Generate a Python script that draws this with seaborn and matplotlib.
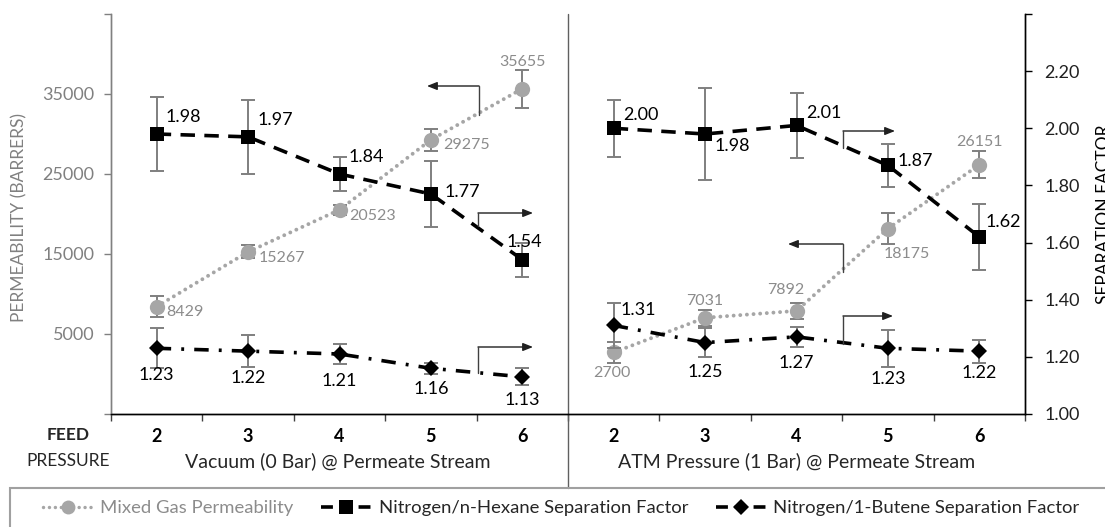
import numpy as np
import pandas as pd
import matplotlib
matplotlib.use("Agg")
import matplotlib.pyplot as plt
from matplotlib.lines import Line2D
from matplotlib.patches import Rectangle
import matplotlib.transforms as mtransforms
import seaborn as sns

sns.set_theme(style="white")
plt.rcParams['font.family'] = ['Lato', 'DejaVu Sans']

# Data
pressures = ["2", "3", "4", "5", "6"]
panels = ["Vacuum (0 Bar) @ Permeate Stream", "ATM Pressure (1 Bar) @ Permeate Stream"]

perm_vac = [8429, 15267, 20523, 29275, 35655]
perm_vac_err = [1300, 800, 600, 1400, 2400]
perm_atm = [2700, 7031, 7892, 18175, 26151]
perm_atm_err = [1300, 1000, 1000, 1900, 1700]

hex_vac = [1.98, 1.97, 1.84, 1.77, 1.54]
hex_vac_err = [0.13, 0.13, 0.06, 0.115, 0.06]
hex_atm = [2.00, 1.98, 2.01, 1.87, 1.62]
hex_atm_err = [0.10, 0.16, 0.115, 0.075, 0.115]

but_vac = [1.23, 1.22, 1.21, 1.16, 1.13]
but_vac_err = [0.07, 0.055, 0.035, 0.02, 0.03]
but_atm = [1.31, 1.25, 1.27, 1.23, 1.22]
but_atm_err = [0.08, 0.05, 0.035, 0.065, 0.04]

GRAY = "#A6A6A6"
GRAY_TXT = "#8C8C8C"
ERR = "#7F7F7F"


def build_frame(vac, vac_err, atm, atm_err):
    n = len(pressures)
    return pd.DataFrame({
        "pos": list(range(n)) + list(range(n, 2 * n)),
        "value": list(vac) + list(atm),
        "err": list(vac_err) + list(atm_err),
        "panel": [panels[0]] * n + [panels[1]] * n,
    })


perm_df = build_frame(perm_vac, perm_vac_err, perm_atm, perm_atm_err)
hex_df = build_frame(hex_vac, hex_vac_err, hex_atm, hex_atm_err)
but_df = build_frame(but_vac, but_vac_err, but_atm, but_atm_err)

fig = plt.figure(figsize=(11.05, 5.27), dpi=100)
ax = fig.add_axes([111 / 1105, 1 - 414 / 527, 914 / 1105, 400 / 527])
ax2 = ax.twinx()

# error bars first, then lines + markers
ax.errorbar(perm_df["pos"], perm_df["value"], yerr=perm_df["err"], fmt="none",
            ecolor=ERR, elinewidth=1.4, capsize=5, capthick=1.4, zorder=1)
ax2.errorbar(hex_df["pos"], hex_df["value"], yerr=hex_df["err"], fmt="none",
             ecolor=ERR, elinewidth=1.4, capsize=5, capthick=1.4, zorder=1)
ax2.errorbar(but_df["pos"], but_df["value"], yerr=but_df["err"], fmt="none",
             ecolor=ERR, elinewidth=1.4, capsize=5, capthick=1.4, zorder=1)

sns.lineplot(data=perm_df, x="pos", y="value", units="panel", estimator=None, ax=ax,
             color=GRAY, lw=2.8, linestyle=(0, (0.01, 1.7)), dash_capstyle="round",
             marker="o", markersize=11, markeredgewidth=0, legend=False, zorder=2)
sns.lineplot(data=hex_df, x="pos", y="value", units="panel", estimator=None, ax=ax2,
             color="black", lw=2.6, linestyle=(0, (4, 2.6)),
             marker="s", markersize=10, markeredgewidth=0, legend=False, zorder=3)
sns.lineplot(data=but_df, x="pos", y="value", units="panel", estimator=None, ax=ax2,
             color="black", lw=2.6, linestyle=(0, (4, 2.8, 0.8, 2.8)),
             marker="D", markersize=8, markeredgewidth=0, legend=False, zorder=3)

# axes
ax.set_xlim(-0.5, 9.5)
ax.set_ylim(-5000, 45000)
ax2.set_ylim(1.0, 2.4)
ax.set_yticks(np.arange(-5000, 45001, 10000))
ax.set_yticklabels([""] + [str(v) for v in range(5000, 35001, 10000)] + [""])
ax2.set_yticks(np.arange(1.0, 2.41, 0.2))
ax2.set_yticklabels([f"{v:.2f}" for v in np.arange(1.0, 2.21, 0.2)] + [""])
ax.set_xticks(range(10))
ax.set_xticklabels(pressures * 2, fontsize=13, fontweight="bold", color="black")
ax.set_xticks(np.arange(-0.5, 10, 1), minor=True)
ax.tick_params(axis="x", which="major", length=0, pad=10)
ax.tick_params(axis="x", which="minor", length=5, width=1, color="#404040", bottom=True)
ax.tick_params(axis="y", length=5, width=1, color="#808080", labelsize=13,
               labelcolor="#808080", left=True, pad=7)
ax2.tick_params(axis="y", length=5, width=1, color="black", labelsize=13,
                labelcolor="#202020", right=True, pad=9)
ax.set_xlabel("")
ax.set_ylabel("")
ax2.set_ylabel("")
ax.grid(False)
ax2.grid(False)
for a in (ax, ax2):
    a.spines["top"].set_visible(False)
    a.spines["bottom"].set_color("black")
    a.spines["left"].set_color("#808080")
    a.spines["right"].set_color("black")
    for s in a.spines.values():
        s.set_linewidth(1)

# divider between panels, running down through the label area
blend = mtransforms.blended_transform_factory(ax.transData, ax.transAxes)
ax.plot([4.5, 4.5], [-0.185, 1.0], transform=blend, color="#606060", lw=1, clip_on=False)

# data labels (offsets in pixels)
def put_labels(a, df, offsets, color, size):
    for (x, y), (dx, dy, ha) in zip(zip(df["pos"], df["value"]), offsets):
        txt = f"{y:.2f}" if y < 10 else f"{int(y)}"
        a.annotate(txt, (x, y), xytext=(dx, dy), textcoords="offset pixels",
                   ha=ha, va="center", color=color, fontsize=size)


hex_offsets = [(9, 17, "left"), (9, 17, "left"), (9, 17, "left"), (14, 2, "left"), (2, 18, "center"),
               (10, 13, "left"), (9, -12, "left"), (10, 12, "left"), (10, 4, "left"), (6, 15, "left")]
perm_offsets = [(10, -5, "left"), (11, -6, "left"), (10, -6, "left"), (12, -5, "left"), (0, 27, "center"),
                (-2, -21, "center"), (0, 17, "center"), (-11, 21, "center"), (19, -25, "center"), (0, 23, "center")]
but_offsets = [(0, -27, "center"), (0, -27, "center"), (0, -27, "center"), (0, -21, "center"), (0, -23, "center"),
               (7, 15, "left"), (0, -29, "center"), (0, -26, "center"), (0, -31, "center"), (0, -22, "center")]
put_labels(ax, perm_df, perm_offsets, GRAY_TXT, 11.5)
put_labels(ax2, hex_df, hex_offsets, "black", 13)
put_labels(ax2, but_df, but_offsets, "black", 13)

# axis-pointer arrows (figure pixel coords, y from top)
arrows = [
    ((479, 115), (479, 86), (427, 86)),
    ((478, 226), (478, 213), (533, 213)),
    ((478, 373), (478, 347), (533, 347)),
    ((843, 148), (843, 131), (895, 131)),
    ((843, 272), (843, 244), (788, 244)),
    ((843, 344), (843, 316), (893, 316)),
]
for start, corner, end in arrows:
    p0 = (start[0], 527 - start[1])
    p1 = (corner[0], 527 - corner[1])
    p2 = (end[0], 527 - end[1])
    fig.add_artist(Line2D([p0[0], p1[0]], [p0[1], p1[1]], transform=None, color="#404040", lw=1))
    ax2.annotate("", xy=p2, xycoords="figure pixels", xytext=p1, textcoords="figure pixels",
                 arrowprops=dict(arrowstyle="-|>,head_length=0.5,head_width=0.2",
                                 color="#202020", lw=1, shrinkA=0, shrinkB=0))

# bottom labels
fig.text(68 / 1105, 1 - 435 / 527, "FEED", ha="center", va="center", fontsize=12.5, fontweight="bold")
fig.text(68 / 1105, 1 - 461 / 527, "PRESSURE", ha="center", va="center", fontsize=12.5)
fig.text(338 / 1105, 1 - 461 / 527, panels[0], ha="center", va="center", fontsize=14)
fig.text(797 / 1105, 1 - 461 / 527, panels[1], ha="center", va="center", fontsize=14)

# axis titles
fig.text(19 / 1105, 1 - 218 / 527, "PERMEABILITY (BARRERS)", rotation=90, ha="center", va="center",
         fontsize=12.5, color="#808080")
fig.text(1104 / 1105, 1 - 214 / 527, "SEPARATION FACTOR", rotation=90, ha="center", va="center",
         fontsize=12.5, color="black")

# legend with a box running off the bottom/right edge
fig.add_artist(Rectangle((10 / 1105, -0.05), 1.0, 0.05 + 1 - 488 / 527, transform=fig.transFigure,
                         fill=False, edgecolor="#A0A0A0", lw=1.5))
handles = [
    Line2D([], [], color=GRAY, lw=2.5, linestyle=(0, (0.01, 1.7)), dash_capstyle="round",
           marker="o", markersize=10, markeredgewidth=0),
    Line2D([], [], color="black", lw=2.6, linestyle=(0, (3.3, 1.9)),
           marker="s", markersize=10, markeredgewidth=0),
    Line2D([], [], color="black", lw=2.6, linestyle=(0, (3.3, 1.9)),
           marker="D", markersize=8, markeredgewidth=0),
]
labels = ["Mixed Gas Permeability", "Nitrogen/n-Hexane Separation Factor", "Nitrogen/1-Butene Separation Factor"]
leg = fig.legend(handles, labels, loc="center", bbox_to_anchor=(0.508, 1 - 508 / 527), ncol=3,
                 frameon=False, fontsize=13.3, handlelength=2.7, columnspacing=1.5, handletextpad=0.4)
leg.get_texts()[0].set_color(GRAY_TXT)

fig.savefig("out.png", dpi=100)
